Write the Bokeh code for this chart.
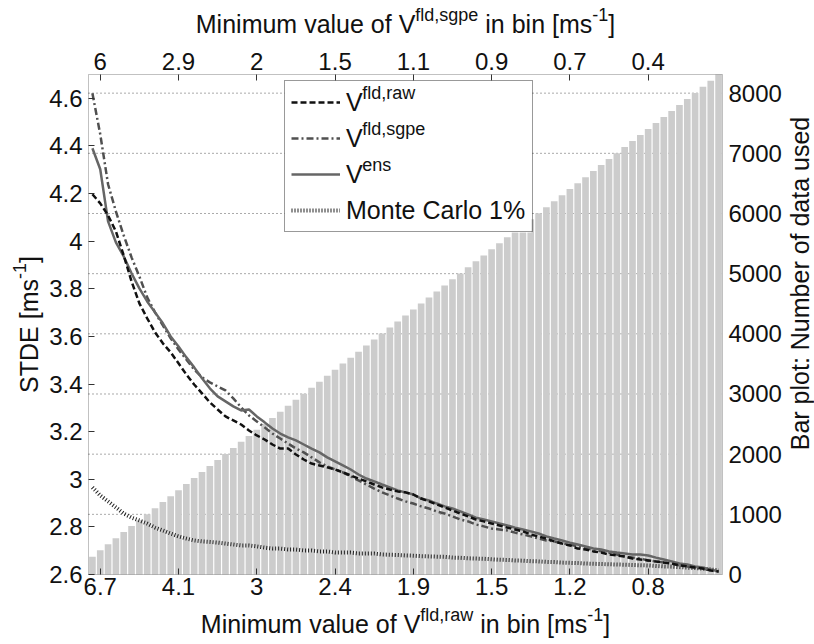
import math
from bokeh.plotting import figure
from bokeh.models import (Range1d, LinearAxis, FixedTicker, Label, BoxAnnotation,
                          Legend, LegendItem)
from bokeh.embed import file_html
from bokeh.resources import INLINE

# ---- data -----------------------------------------------------------------
bins = list(range(1, 82))

n_used = [296, 404, 502, 603, 705, 805, 903, 1002, 1101, 1203,
          1302, 1402, 1505, 1603, 1703, 1805, 1904, 2003, 2103, 2205,
          2303, 2404, 2504, 2603, 2705, 2804, 2905, 3004, 3104, 3205,
          3305, 3404, 3505, 3604, 3703, 3805, 3905, 4004, 4104, 4204,
          4305, 4404, 4503, 4605, 4704, 4804, 4905, 5004, 5105, 5205,
          5303, 5404, 5505, 5604, 5703, 5805, 5904, 6004, 6104, 6204,
          6304, 6405, 6504, 6604, 6705, 6804, 6905, 7003, 7104, 7205,
          7304, 7403, 7505, 7604, 7703, 7805, 7904, 8004, 8105, 8205,
          8310]

stde_raw = [4.197, 4.159, 4.108, 4.041, 3.940, 3.831, 3.739, 3.676, 3.617, 3.571,
            3.533, 3.487, 3.440, 3.398, 3.361, 3.323, 3.293, 3.264, 3.247, 3.230,
            3.205, 3.184, 3.167, 3.146, 3.129, 3.129, 3.104, 3.083, 3.066, 3.058,
            3.050, 3.041, 3.029, 3.016, 3.003, 2.991, 2.978, 2.966, 2.957, 2.949,
            2.945, 2.936, 2.919, 2.907, 2.894, 2.882, 2.869, 2.856, 2.844, 2.831,
            2.823, 2.814, 2.806, 2.797, 2.789, 2.781, 2.768, 2.760, 2.751, 2.739,
            2.730, 2.722, 2.709, 2.705, 2.697, 2.692, 2.684, 2.680, 2.676, 2.667,
            2.663, 2.659, 2.655, 2.650, 2.646, 2.638, 2.634, 2.629, 2.625, 2.617,
            2.613]

stde_sgpe = [4.621, 4.449, 4.239, 4.125, 4.024, 3.932, 3.852, 3.764, 3.701, 3.646,
             3.592, 3.545, 3.503, 3.461, 3.428, 3.407, 3.390, 3.373, 3.340, 3.302,
             3.268, 3.243, 3.218, 3.192, 3.171, 3.150, 3.129, 3.113, 3.092, 3.071,
             3.054, 3.041, 3.029, 3.012, 2.995, 2.978, 2.961, 2.945, 2.932, 2.919,
             2.907, 2.898, 2.886, 2.877, 2.865, 2.856, 2.844, 2.831, 2.823, 2.810,
             2.802, 2.793, 2.789, 2.785, 2.776, 2.768, 2.760, 2.751, 2.743, 2.739,
             2.730, 2.726, 2.718, 2.709, 2.705, 2.697, 2.692, 2.684, 2.676, 2.671,
             2.667, 2.659, 2.655, 2.650, 2.646, 2.638, 2.634, 2.629, 2.625, 2.617,
             2.613]

stde_ens = [4.390, 4.302, 4.083, 3.995, 3.936, 3.865, 3.802, 3.747, 3.701, 3.655,
            3.600, 3.558, 3.512, 3.470, 3.424, 3.382, 3.348, 3.327, 3.306, 3.289,
            3.293, 3.264, 3.239, 3.213, 3.192, 3.176, 3.163, 3.146, 3.129, 3.113,
            3.092, 3.075, 3.058, 3.041, 3.020, 3.003, 2.991, 2.978, 2.966, 2.953,
            2.945, 2.936, 2.919, 2.911, 2.898, 2.886, 2.877, 2.865, 2.852, 2.839,
            2.831, 2.823, 2.814, 2.806, 2.797, 2.789, 2.781, 2.772, 2.760, 2.751,
            2.743, 2.734, 2.726, 2.718, 2.709, 2.705, 2.697, 2.692, 2.688, 2.684,
            2.684, 2.680, 2.671, 2.663, 2.655, 2.646, 2.642, 2.634, 2.629, 2.621,
            2.613]

stde_mc = [2.966, 2.932, 2.907, 2.882, 2.856, 2.839, 2.827, 2.814, 2.797, 2.785,
           2.772, 2.760, 2.751, 2.743, 2.739, 2.737, 2.734, 2.730, 2.726, 2.722,
           2.722, 2.718, 2.713, 2.709, 2.709, 2.705, 2.705, 2.701, 2.701, 2.697,
           2.697, 2.692, 2.692, 2.692, 2.688, 2.688, 2.688, 2.684, 2.683, 2.682,
           2.680, 2.679, 2.677, 2.676, 2.675, 2.674, 2.671, 2.670, 2.668, 2.667,
           2.666, 2.664, 2.662, 2.661, 2.659, 2.658, 2.656, 2.655, 2.653, 2.652,
           2.650, 2.649, 2.648, 2.646, 2.645, 2.644, 2.643, 2.642, 2.641, 2.640,
           2.639, 2.638, 2.636, 2.634, 2.633, 2.631, 2.629, 2.627, 2.625, 2.621,
           2.617]

tick_bins = [2, 12, 22, 32, 42, 52, 62, 72]
raw_tick_labels = ["6.7", "4.1", "3", "2.4", "1.9", "1.5", "1.2", "0.8"]
sgpe_tick_labels = ["6", "2.9", "2", "1.5", "1.1", "0.9", "0.7", "0.4"]
stde_ticks = [2.6, 2.8, 3.0, 3.2, 3.4, 3.6, 3.8, 4.0, 4.2, 4.4, 4.6]
stde_tick_labels = ["2.6", "2.8", "3", "3.2", "3.4", "3.6", "3.8", "4", "4.2", "4.4", "4.6"]
count_ticks = [0, 1000, 2000, 3000, 4000, 5000, 6000, 7000, 8000]
grid_counts = [1000, 2000, 3000, 4000, 5000, 6000, 7000, 8000]

# ---- geometry -------------------------------------------------------------
W, H = 814, 644
FL, FR, FT, FB = 88, 722, 74, 574          # axes box edges (px)
X0, X1 = 0.5, 81.5                          # bin range of the box
Y0, Y1 = 2.6, 4.7                           # STDE range of the box
C0, C1 = 0, 8310                            # count range of the box
FONT = "Liberation Sans"
INK = "#111111"
BASE_FIX = 9                                # label anchor to glyph baseline (px)


def dx(px):
    return X0 + (px - FL) * (X1 - X0) / (FR - FL)


def dy(py):
    return Y0 + (FB - py) * (Y1 - Y0) / (FB - FT)


def dc(py):
    return C0 + (FB - py) * (C1 - C0) / (FB - FT)


# the plotting area spans the whole canvas; the axes box sits inside it
p = figure(width=W, height=H, output_backend="svg", toolbar_location=None,
           x_range=Range1d(dx(0), dx(W)), y_range=Range1d(dy(H), dy(0)),
           x_axis_location=None, y_axis_location=None, min_border=0)
p.grid.visible = False
p.outline_line_color = None
p.background_fill_color = "white"
p.border_fill_color = "white"
p.extra_y_ranges = {"count": Range1d(dc(H), dc(0))}


def style_axis(ax, tick_in=6, standoff=5):
    ax.axis_line_color = None
    ax.major_tick_in = tick_in
    ax.major_tick_out = 0
    ax.minor_tick_line_color = None
    ax.major_tick_line_color = "#333333"
    ax.major_label_text_font = FONT
    ax.major_label_text_font_size = "24px"
    ax.major_label_text_color = INK
    ax.major_label_standoff = standoff


ax_bottom = LinearAxis(ticker=FixedTicker(ticks=tick_bins), fixed_location=Y0,
                       bounds=(X0, X1),
                       major_label_overrides=dict(zip(tick_bins, raw_tick_labels)))
style_axis(ax_bottom, standoff=3)
p.add_layout(ax_bottom, "below")

ax_top = LinearAxis(ticker=FixedTicker(ticks=tick_bins), fixed_location=Y1,
                    bounds=(X0, X1),
                    major_label_overrides=dict(zip(tick_bins, sgpe_tick_labels)))
style_axis(ax_top, standoff=5)
p.add_layout(ax_top, "above")

ax_left = LinearAxis(ticker=FixedTicker(ticks=stde_ticks), fixed_location=X0,
                     bounds=(Y0, Y1),
                     major_label_overrides=dict(zip(stde_ticks, stde_tick_labels)))
style_axis(ax_left, standoff=6)
p.add_layout(ax_left, "left")

ax_right = LinearAxis(y_range_name="count", ticker=FixedTicker(ticks=count_ticks),
                      fixed_location=X1, bounds=(C0, C1))
style_axis(ax_right, tick_in=0, standoff=6)
p.add_layout(ax_right, "right")

# dotted horizontal grid at the count ticks, beneath the bars
p.segment(x0=[X0] * len(grid_counts), x1=[X1] * len(grid_counts),
          y0=grid_counts, y1=grid_counts, y_range_name="count",
          line_color="#555555", line_dash="1 3", line_width=1, level="underlay")

# ---- marks ----------------------------------------------------------------
p.vbar(x=bins, top=n_used, bottom=0, width=0.85, y_range_name="count",
       fill_color="#cccccc", line_color=None)

r_mc = p.line(bins, stde_mc, line_color="#222222", line_width=4, line_dash="1 2")
r_sgpe = p.line(bins, stde_sgpe, line_color="#505050", line_width=2.5, line_dash="7 3 2 3")
r_ens = p.line(bins, stde_ens, line_color="#666666", line_width=2.5)
r_raw = p.line(bins, stde_raw, line_color="#111111", line_width=2.5, line_dash="6 3")

# axes box
p.add_layout(BoxAnnotation(left=X0, right=X1, bottom=Y0, top=Y1,
                           fill_alpha=0, line_color="#333333", line_width=1))

# ---- legend ---------------------------------------------------------------
LEG_L, LEG_T, LEG_W, LEG_H = 284, 82, 247, 150
# white panel under the (transparent) legend so the superscripts show on top
p.add_layout(BoxAnnotation(left=dx(LEG_L), right=dx(LEG_L + LEG_W),
                           top=dy(LEG_T), bottom=dy(LEG_T + LEG_H),
                           fill_color="white", fill_alpha=1.0, line_color=None))


def put(px, py, text, size, angle=0.0):
    if angle:
        px -= BASE_FIX
    else:
        py -= BASE_FIX
    p.add_layout(Label(x=dx(px), y=dy(py), text=text, angle=angle,
                       text_font=FONT, text_font_size=f"{size}px", text_color=INK,
                       text_align="left", text_baseline="alphabetic"))


sup_x = LEG_L + 6 + 49 + 6 + 0.667 * 25
for k, sup in enumerate(["fld,raw", "fld,sgpe", "ens"]):
    row_c = LEG_T + 6 + 15 + k * 36
    put(sup_x, row_c - 2, sup, 18)

legend = Legend(items=[LegendItem(label="V", renderers=[r_raw]),
                       LegendItem(label="V", renderers=[r_sgpe]),
                       LegendItem(label="V", renderers=[r_ens]),
                       LegendItem(label="Monte Carlo 1%", renderers=[r_mc])],
                location=(LEG_L, H - (LEG_T + LEG_H)), margin=0,
                padding=6, spacing=6, label_height=30, glyph_height=30,
                glyph_width=49, label_standoff=6, label_width=180,
                label_text_font=FONT, label_text_font_size="25px",
                label_text_color=INK, border_line_color="#333333",
                border_line_width=1, background_fill_alpha=0.0)
p.add_layout(legend)


# ---- axis titles with superscripts ---------------------------------------
def titled(x_start, base, sup, sup_em):
    # "Minimum value of V^{sup} in bin [ms^{-1}]" laid out piece by piece
    f, s = 25, 18
    x = x_start
    put(x, base, "Minimum value of V", f)
    x += 8.78 * f
    put(x, base - 9, sup, s)
    x += sup_em * s
    put(x + 0.278 * f, base, "in bin [ms", f)
    x += 4.557 * f
    put(x, base - 9, "-1", s)
    x += 0.889 * s
    put(x, base, "]", f)


cx = (FL + FR) / 2
w_raw = 8.78 * 25 + 2.945 * 18 + 4.557 * 25 + 0.889 * 18 + 0.278 * 25
w_sgpe = 8.78 * 25 + 3.502 * 18 + 4.557 * 25 + 0.889 * 18 + 0.278 * 25
titled(cx - w_raw / 2, 632, "fld,raw", 2.945)
titled(cx - w_sgpe / 2, 32, "fld,sgpe", 3.502)

# left title, rotated: "STDE [ms^{-1}]"
w_left = 4.556 * 25 + 0.889 * 18 + 0.278 * 25
ly = (FT + FB) / 2 + w_left / 2
put(37, ly, "STDE [ms", 25, math.pi / 2)
ly -= 4.556 * 25
put(28, ly, "-1", 18, math.pi / 2)
ly -= 0.889 * 18
put(37, ly, "]", 25, math.pi / 2)

# right title, rotated
w_right = 13.34 * 25
put(808, 283 + w_right / 2, "Bar plot: Number of data used", 25, math.pi / 2)

open("out.html", "w").write(file_html(p, INLINE))
